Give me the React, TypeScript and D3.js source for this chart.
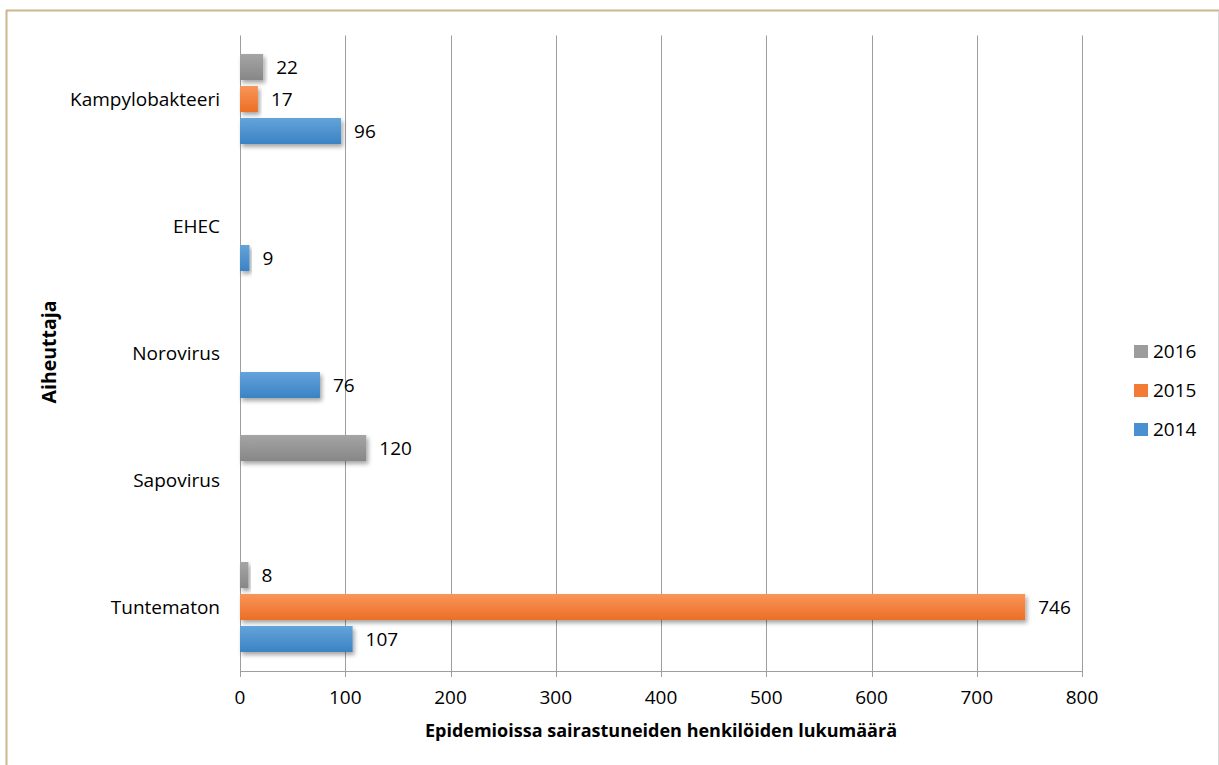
import React from "react";
import * as d3 from "d3";

// Causative agents, top to bottom
const categories: string[] = ["Kampylobakteeri", "EHEC", "Norovirus", "Sapovirus", "Tuntematon"];
// Series as drawn inside each group, top to bottom
const seriesNames: string[] = ["2016", "2015", "2014"];
const values2016: (number | null)[] = [22, null, null, 120, 8];
const values2015: (number | null)[] = [17, null, null, null, 746];
const values2014: (number | null)[] = [96, 9, 76, null, 107];
const xTicks: number[] = [0, 100, 200, 300, 400, 500, 600, 700, 800];
// Legend order, top to bottom
const legendOrder: string[] = ["2016", "2015", "2014"];

const W = 1219;
const H = 765;
const FONT = "'Open Sans', Lato, sans-serif";
const FS = 19;

const colors: Record<string, [string, string]> = {
  "2016": ["#a5a5a5", "#878787"],
  "2015": ["#f8955a", "#ec6e25"],
  "2014": ["#65a3da", "#3a83c4"],
};
const legendColors: Record<string, string> = {
  "2016": "#9c9c9c",
  "2015": "#f27c36",
  "2014": "#4a90d0",
};

const seriesValues: Record<string, (number | null)[]> = {
  "2016": values2016,
  "2015": values2015,
  "2014": values2014,
};

export default function App() {
  const x = d3.scaleLinear().domain([0, 800]).range([240, 1082]);
  const y = d3.scaleBand<string>().domain(categories).range([35.5, 670.5]);
  const inner = d3
    .scaleBand<string>()
    .domain(seriesNames)
    .range([0, 96])
    .paddingInner(0.1875)
    .paddingOuter(0.09375);

  const plotTop = 35.5;
  const plotBottom = 671;

  const bars: { key: string; s: string; cat: string; v: number; yy: number }[] = [];
  categories.forEach((cat, i) => {
    seriesNames.forEach((s) => {
      const v = seriesValues[s][i];
      if (v == null) return;
      const center = (y(cat) as number) + y.bandwidth() / 2;
      bars.push({ key: `${cat}-${s}`, s, cat, v, yy: center - 48 + (inner(s) as number) });
    });
  });

  return (
    <div style={{ position: "fixed", left: 0, top: 0, background: "#fff" }}>
      <svg width={W} height={H} viewBox={`0 0 ${W} ${H}`} style={{ display: "block" }}>
        <defs>
          {seriesNames.map((s) => (
            <linearGradient key={s} id={`g${s}`} x1="0" y1="0" x2="0" y2="1">
              <stop offset="0%" stopColor={colors[s][0]} />
              <stop offset="100%" stopColor={colors[s][1]} />
            </linearGradient>
          ))}
          <filter id="shadow" x="-10%" y="-30%" width="130%" height="180%">
            <feDropShadow dx="2" dy="3" stdDeviation="2" floodColor="#000" floodOpacity="0.35" />
          </filter>
        </defs>
        <rect x={0} y={0} width={W} height={H} fill="#fff" />
        {/* outer frame */}
        <line x1={6} y1={10.5} x2={W} y2={10.5} stroke="#c9b88c" strokeWidth={2} />
        <line x1={6.5} y1={10} x2={6.5} y2={H} stroke="#c9b88c" strokeWidth={2} />
        <line x1={1218.5} y1={11} x2={1218.5} y2={H} stroke="#d8d8d8" strokeWidth={1} />

        {/* vertical gridlines */}
        {xTicks.map((t) => (
          <line
            key={`g${t}`}
            x1={Math.round(x(t)) + 0.5}
            x2={Math.round(x(t)) + 0.5}
            y1={plotTop}
            y2={plotBottom + 6}
            stroke="#9e9e9e"
            strokeWidth={1}
          />
        ))}
        {/* bottom axis */}
        <line x1={x(0)} x2={x(800) + 1} y1={plotBottom + 0.5} y2={plotBottom + 0.5} stroke="#9e9e9e" />
        {xTicks.map((t) => (
          <text
            key={`t${t}`}
            x={x(t)}
            y={704}
            textAnchor="middle"
            fontFamily={FONT}
            fontSize={FS}
            fill="#000"
          >
            {t}
          </text>
        ))}

        {/* bars */}
        {bars.map((b) => (
          <rect
            key={b.key}
            x={x(0)}
            y={b.yy}
            width={x(b.v) - x(0)}
            height={inner.bandwidth()}
            fill={`url(#g${b.s})`}
            filter="url(#shadow)"
          />
        ))}
        {/* value labels */}
        {bars.map((b) => (
          <text
            key={`l${b.key}`}
            x={x(b.v) + 13}
            y={b.yy + inner.bandwidth() / 2 + 7}
            fontFamily={FONT}
            fontSize={FS}
            fill="#000"
          >
            {b.v}
          </text>
        ))}

        {/* category labels */}
        {categories.map((c) => (
          <text
            key={`c${c}`}
            x={220}
            y={(y(c) as number) + y.bandwidth() / 2 + 6.5}
            textAnchor="end"
            fontFamily={FONT}
            fontSize={FS}
            fill="#000"
          >
            {c}
          </text>
        ))}

        {/* axis titles */}
        <text
          x={661}
          y={737}
          textAnchor="middle"
          fontFamily={FONT}
          fontSize={18}
          fontWeight="bold"
          fill="#000"
        >
          Epidemioissa sairastuneiden henkilöiden lukumäärä
        </text>
        <text
          transform="translate(56,352) rotate(-90)"
          textAnchor="middle"
          fontFamily={FONT}
          fontSize={19.5}
          fontWeight="bold"
          fill="#000"
        >
          Aiheuttaja
        </text>

        {/* legend */}
        {legendOrder.map((s, i) => (
          <g key={`lg${s}`} transform={`translate(1134,${345 + i * 39})`}>
            <rect x={0} y={0} width={14} height={13} fill={legendColors[s]} />
            <text x={19} y={13} fontFamily={FONT} fontSize={FS} fill="#000">
              {s}
            </text>
          </g>
        ))}
      </svg>
    </div>
  );
}
